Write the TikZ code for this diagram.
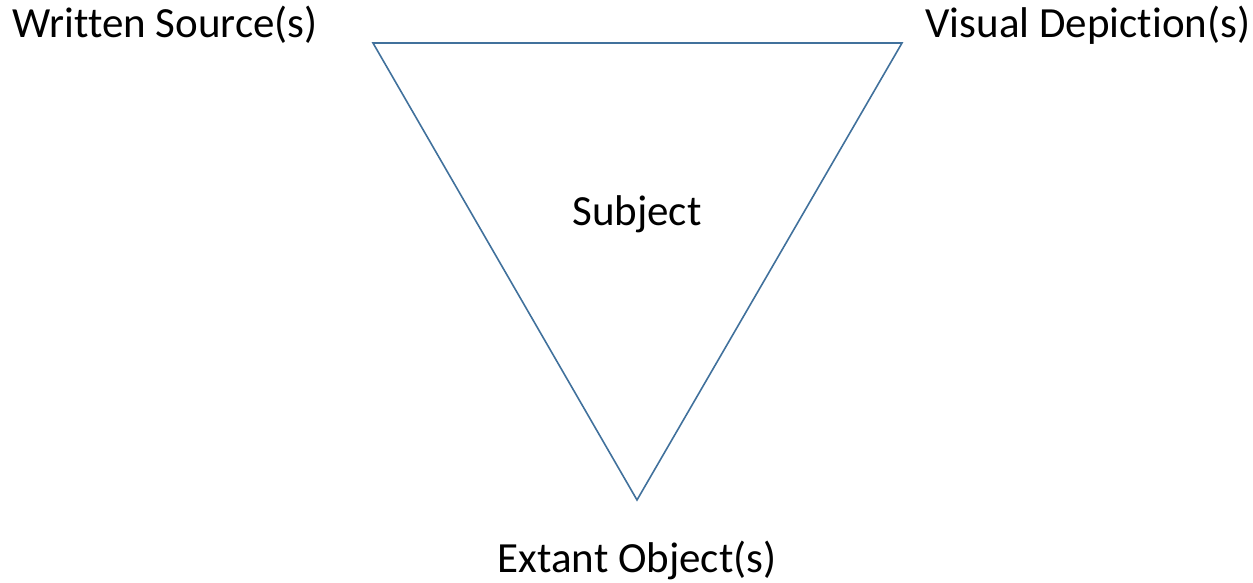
\documentclass[tikz,border=0pt]{standalone}
\usepackage{fontspec}
\setmainfont{Carlito}[Ligatures=NoCommon]
\usetikzlibrary{positioning}

\begin{document}
\begin{tikzpicture}[
		x=1pt, y=-1pt,
		lbl/.style={anchor=base, inner sep=0pt, font=\fontsize{43}{51}\selectfont},
		edge/.style={draw=edgeblue, line width=1.6pt, line join=miter},
	]
	\definecolor{edgeblue}{HTML}{41719C}
	\useasboundingbox (0,0) rectangle (1253,583);

	% corners of the triangle
	\coordinate (written) at (373,43);
	\coordinate (visual)  at (902,43);
	\coordinate (extant)  at (637,500);

	% triangle
	\draw[edge] (written) -- (visual) -- (extant) -- cycle;

	% labels
	\node[lbl] (ws) at (165,38)  {Written Source(s)};
	\node[lbl] (vd) at (1088,38) {Visual Depiction(s)};
	\node[lbl] (sb) at (637,225) {Subject};
	\node[lbl] (eo) at (637,572) {Extant Object(s)};
\end{tikzpicture}
\end{document}
